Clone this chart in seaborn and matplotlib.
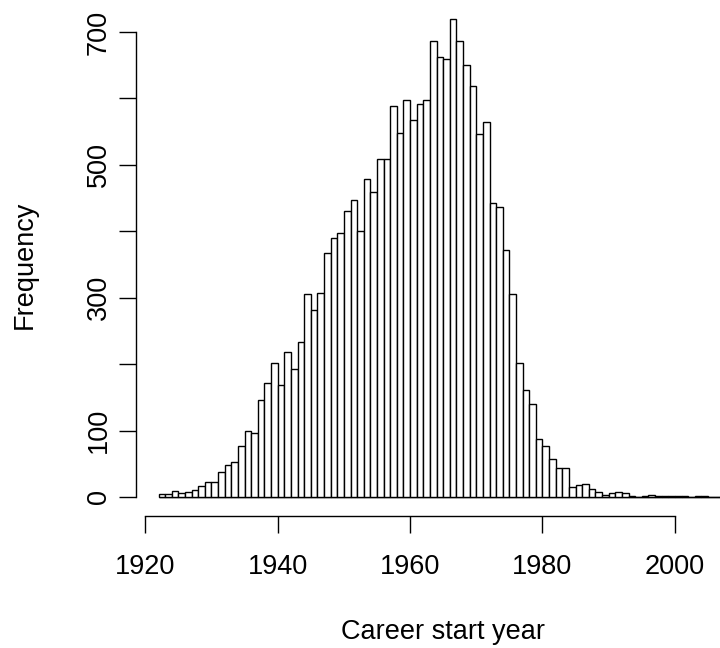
import numpy as np
import pandas as pd
import seaborn as sns
import matplotlib as mpl
import matplotlib.pyplot as plt

# yearly counts (1922..2007)
years = list(range(1922, 2008))
counts = [4, 4, 9, 6, 7, 11, 16, 23, 22, 38,
          48, 53, 77, 100, 97, 146, 172, 202, 168, 218,
          192, 233, 305, 282, 307, 367, 390, 397, 430, 447,
          400, 479, 459, 509, 509, 588, 548, 597, 568, 592,
          597, 687, 663, 659, 719, 686, 650, 618, 546, 565,
          443, 436, 372, 306, 201, 161, 140, 87, 77, 57,
          43, 43, 15, 18, 19, 12, 7, 3, 6, 7,
          6, 2, 0, 1, 3, 2, 1, 1, 2, 1,
          0, 1, 1, 0, 0, 0]
x_ticks = [1920, 1940, 1960, 1980, 2000]
y_ticks = [0, 100, 200, 300, 400, 500, 600, 700]
# R drops every other y label because they would overlap
y_labels = ['0', '100', '', '300', '', '500', '', '700']

sns.set_style('ticks')
mpl.rcParams['font.family'] = ['Liberation Sans', 'DejaVu Sans']

# put each count in the middle of its one-year bin
df = pd.DataFrame({'year': np.array(years) + 0.5, 'n': counts})

fig = plt.figure(figsize=(7.2, 6.48), dpi=100)
ax = fig.add_axes([135.7 / 720, (648 - 515.6) / 648,
                   (720 - 135.7) / 720, (515.6 - 13.4) / 648])

sns.histplot(data=df, x='year', weights='n',
             binwidth=1, binrange=(years[0], years[-1] + 1), stat='count',
             color='white', edgecolor='black', linewidth=1.0,
             alpha=1, ax=ax)
# empty bins still show their bottom edge in R's hist
ax.hlines(0, years[0], years[-1] + 1, color='black', lw=1.0, zorder=0.5)

ax.set_xlim(1918.55, 1918.55 + (720 - 135.7) / 6.62)
ax.set_ylim(-28, 728)
ax.set_xticks(x_ticks)
ax.set_yticks(y_ticks)
ax.set_yticklabels(y_labels)
ax.tick_params(axis='both', length=12, width=1.0, color='black',
               labelsize=19.5, labelcolor='black')
ax.tick_params(axis='x', pad=16)
ax.tick_params(axis='y', pad=5)
for lab in ax.get_yticklabels():
    lab.set_rotation(90)
    lab.set_va('center')

ax.set_xlabel('Career start year', fontsize=19.5, va='center', color='black')
ax.xaxis.set_label_coords(0.526, -0.232)
ax.set_ylabel('Frequency', fontsize=19.5, va='center', color='black')
ax.yaxis.set_label_coords(-0.1895, 0.5)

sns.despine(ax=ax, trim=True)
for side in ['left', 'bottom']:
    ax.spines[side].set_linewidth(1.0)
    ax.spines[side].set_color('black')

fig.savefig('out.png', dpi=100, facecolor='white')
